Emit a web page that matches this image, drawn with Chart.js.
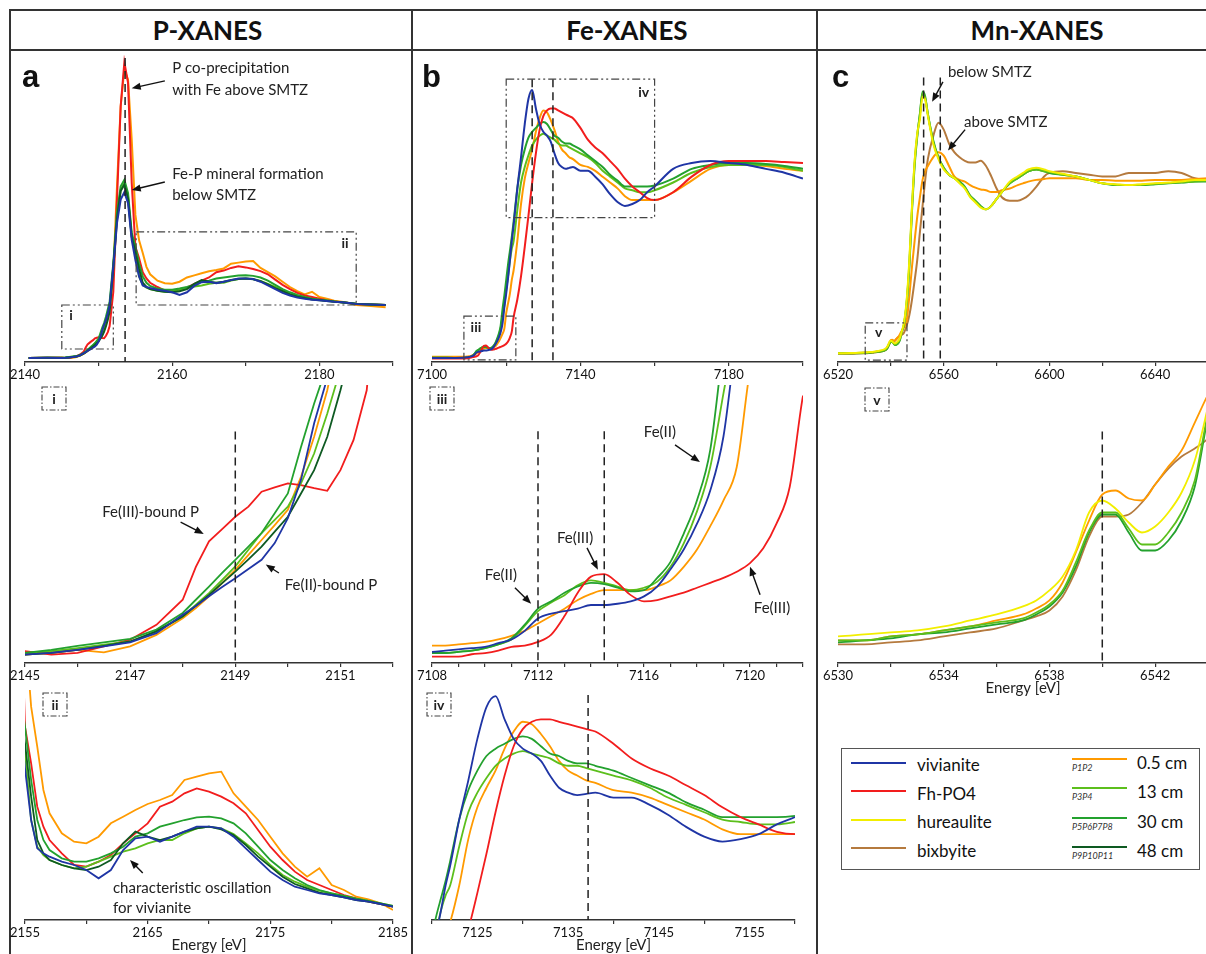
<!DOCTYPE html>
<html>
<head>
<meta charset="utf-8">
<script src="https://cdn.jsdelivr.net/npm/chart.js@4.4.0/dist/chart.umd.min.js"></script>
<style>
  html, body { margin: 0; padding: 0; background: #fff; }
  body { width: 1206px; height: 954px; position: relative; overflow: hidden; font-family: Lato, 'Open Sans', sans-serif; color: #111; }
  canvas { position: absolute; }
  .rule { position: absolute; background: #333; }
  .head { position: absolute; top: 10px; height: 40px; line-height: 40px; text-align: center; font-weight: bold; font-size: 26px; }
  .lg { position: absolute; white-space: nowrap; }
</style>
</head>
<body>
<div class="rule" style="left:9px;top:9px;width:1200px;height:2px"></div>
<div class="rule" style="left:9px;top:49px;width:1200px;height:2px"></div>
<div class="rule" style="left:9px;top:9px;width:2px;height:950px"></div>
<div class="rule" style="left:411px;top:9px;width:2px;height:950px"></div>
<div class="rule" style="left:816px;top:9px;width:2px;height:950px"></div>
<div class="head" style="left:10px;width:395px">P-XANES</div>
<div class="head" style="left:412px;width:430px">Fe-XANES</div>
<div class="head" style="left:817px;width:440px">Mn-XANES</div>
<div class="lg" style="left:841px;top:748px;width:357px;height:120px;border:1.5px solid #555"></div>
<script>
// ---- P K-edge (normalized absorbance) ----
const pEnergy = [2140.5, 2143, 2145, 2145.5, 2146, 2146.5, 2147, 2147.5, 2148, 2148.25, 2148.5, 2148.75, 2149, 2149.25, 2149.5, 2149.75, 2150, 2150.25, 2150.5, 2150.75, 2151, 2151.25, 2151.5, 2152, 2152.5, 2153, 2153.5, 2154, 2154.5, 2155, 2155.5, 2156, 2156.5, 2157, 2158, 2159, 2160, 2161, 2162, 2163, 2164, 2165, 2166, 2167, 2168, 2169, 2170, 2171, 2172, 2173, 2174, 2175, 2176, 2177, 2178, 2179, 2180, 2181, 2182, 2183, 2184, 2185, 2187, 2189];
const pVivianite = [0, 0.003, 0.0, 0.004, 0.011, 0.019, 0.028, 0.049, 0.091, 0.111, 0.133, 0.154, 0.174, 0.195, 0.216, 0.254, 0.311, 0.398, 0.527, 0.63, 0.72, 0.85, 1.0, 1.73, 2.55, 2.99, 3.13, 2.92, 2.23, 1.85, 1.54, 1.37, 1.34, 1.32, 1.29, 1.27, 1.24, 1.19, 1.24, 1.36, 1.43, 1.44, 1.41, 1.44, 1.47, 1.50, 1.50, 1.49, 1.44, 1.37, 1.30, 1.23, 1.18, 1.14, 1.12, 1.10, 1.09, 1.076, 1.06, 1.05, 1.036, 1.02, 1.01, 1.0];
const pFhPO4 = [0, 0.005, 0.008, 0.0, 0.004, 0.019, 0.034, 0.068, 0.125, 0.20, 0.258, 0.286, 0.314, 0.337, 0.371, 0.381, 0.390, 0.386, 0.379, 0.373, 0.420, 0.489, 0.602, 1.25, 2.99, 4.75, 5.58, 5.19, 3.3, 2.1, 1.88, 1.62, 1.50, 1.42, 1.34, 1.27, 1.26, 1.29, 1.33, 1.40, 1.46, 1.52, 1.62, 1.65, 1.70, 1.73, 1.71, 1.68, 1.64, 1.58, 1.48, 1.38, 1.30, 1.23, 1.18, 1.15, 1.12, 1.09, 1.07, 1.05, 1.036, 1.02, 1.01, 1.0];
const pP1P2 = [0, 0.003, 0.0, 0.004, 0.011, 0.005, 0.019, 0.045, 0.083, 0.106, 0.133, 0.163, 0.193, 0.227, 0.261, 0.295, 0.330, 0.405, 0.496, 0.602, 0.75, 0.85, 0.95, 1.6, 3.24, 4.75, 5.45, 5.25, 4.12, 2.7, 2.22, 1.98, 1.72, 1.58, 1.46, 1.41, 1.40, 1.44, 1.52, 1.56, 1.60, 1.636, 1.66, 1.69, 1.78, 1.80, 1.82, 1.83, 1.70, 1.62, 1.54, 1.44, 1.34, 1.26, 1.20, 1.25, 1.15, 1.12, 1.08, 1.064, 1.04, 1.0, 0.98, 0.96];
const pP3P4 = [0, 0.003, 0.004, 0.008, 0.015, 0.023, 0.03, 0.053, 0.087, 0.114, 0.140, 0.170, 0.201, 0.239, 0.277, 0.307, 0.337, 0.390, 0.458, 0.549, 0.65, 0.78, 0.95, 1.75, 2.68, 3.18, 3.30, 3.05, 2.30, 1.95, 1.54, 1.38, 1.33, 1.30, 1.27, 1.25, 1.26, 1.29, 1.32, 1.35, 1.37, 1.40, 1.42, 1.42, 1.46, 1.49, 1.50, 1.49, 1.456, 1.40, 1.34, 1.27, 1.21, 1.17, 1.14, 1.116, 1.10, 1.084, 1.068, 1.054, 1.04, 1.024, 1.01, 1.0];
const pP5P8 = [0, 0.003, 0.004, 0.011, 0.02, 0.028, 0.036, 0.057, 0.095, 0.125, 0.155, 0.186, 0.216, 0.246, 0.277, 0.322, 0.367, 0.473, 0.572, 0.66, 0.78, 0.92, 1.06, 1.79, 2.74, 3.24, 3.36, 3.11, 2.36, 2.1, 1.78, 1.54, 1.42, 1.36, 1.31, 1.29, 1.29, 1.31, 1.34, 1.38, 1.44, 1.46, 1.50, 1.52, 1.54, 1.556, 1.56, 1.55, 1.52, 1.46, 1.38, 1.30, 1.24, 1.19, 1.15, 1.12, 1.10, 1.084, 1.068, 1.054, 1.04, 1.024, 1.01, 1.0];
const pP9P11 = [0, 0.003, 0.0, 0.004, 0.011, 0.02, 0.03, 0.053, 0.087, 0.111, 0.136, 0.163, 0.189, 0.217, 0.246, 0.280, 0.314, 0.367, 0.420, 0.496, 0.602, 0.72, 0.88, 1.70, 2.62, 3.15, 3.27, 3.0, 2.28, 2.0, 1.68, 1.42, 1.34, 1.30, 1.27, 1.25, 1.24, 1.26, 1.30, 1.40, 1.47, 1.44, 1.42, 1.44, 1.47, 1.49, 1.50, 1.484, 1.45, 1.39, 1.32, 1.26, 1.20, 1.156, 1.13, 1.104, 1.09, 1.076, 1.06, 1.05, 1.036, 1.02, 1.01, 1.0];

// ---- Fe K-edge ----
const feEnergy = [7100, 7104, 7108, 7108.5, 7109, 7109.5, 7110, 7110.5, 7111, 7111.5, 7112, 7112.5, 7113, 7113.5, 7114, 7114.5, 7115, 7115.5, 7116, 7116.5, 7117, 7117.5, 7118, 7118.5, 7119, 7119.5, 7120, 7120.5, 7121, 7121.5, 7122, 7123, 7124, 7125, 7126, 7127, 7128, 7129, 7130, 7131, 7132, 7133, 7134, 7135, 7136, 7137, 7138, 7140, 7142, 7144, 7146, 7148, 7150, 7152, 7154, 7156, 7158, 7160, 7165, 7170, 7175, 7180, 7185, 7190, 7195, 7200];
const feVivianite = [0, 0, 0.001, 0.002, 0.003, 0.004, 0.005, 0.008, 0.011, 0.018, 0.028, 0.032, 0.034, 0.036, 0.039, 0.039, 0.040, 0.042, 0.046, 0.054, 0.068, 0.084, 0.105, 0.132, 0.176, 0.26, 0.33, 0.41, 0.50, 0.60, 0.68, 0.87, 1.03, 1.20, 1.33, 1.375, 1.28, 1.20, 1.16, 1.14, 1.11, 1.05, 1.0, 0.98, 0.97, 0.975, 0.98, 0.96, 0.96, 0.93, 0.89, 0.84, 0.80, 0.78, 0.79, 0.81, 0.85, 0.88, 0.97, 1.0, 1.01, 1.0, 0.99, 0.97, 0.95, 0.92];
const feFhPO4 = [-0.003, -0.003, -0.003, -0.003, -0.003, -0.001, 0.0, 0.002, 0.005, 0.006, 0.009, 0.015, 0.030, 0.049, 0.062, 0.064, 0.057, 0.047, 0.042, 0.043, 0.046, 0.049, 0.053, 0.057, 0.061, 0.066, 0.073, 0.085, 0.105, 0.135, 0.209, 0.30, 0.42, 0.57, 0.73, 0.90, 1.05, 1.17, 1.24, 1.27, 1.28, 1.28, 1.27, 1.26, 1.25, 1.24, 1.23, 1.18, 1.12, 1.08, 1.05, 1.01, 0.97, 0.92, 0.88, 0.85, 0.82, 0.81, 0.85, 0.93, 0.99, 1.01, 1.01, 1.01, 1.005, 1.0];
const feP1P2 = [0.006, 0.006, 0.006, 0.006, 0.007, 0.008, 0.009, 0.011, 0.014, 0.018, 0.024, 0.030, 0.036, 0.043, 0.048, 0.051, 0.051, 0.051, 0.051, 0.054, 0.059, 0.070, 0.084, 0.103, 0.124, 0.151, 0.23, 0.28, 0.33, 0.40, 0.45, 0.60, 0.79, 0.92, 1.0, 1.07, 1.16, 1.23, 1.27, 1.26, 1.22, 1.17, 1.11, 1.07, 1.05, 1.03, 1.02, 0.99, 0.98, 0.96, 0.93, 0.90, 0.87, 0.83, 0.81, 0.81, 0.81, 0.81, 0.85, 0.91, 0.97, 0.99, 0.99, 0.985, 0.97, 0.96];
const feP3P4 = [0.001, 0.001, 0.0, 0.0, 0.001, 0.002, 0.004, 0.007, 0.011, 0.022, 0.034, 0.041, 0.047, 0.055, 0.059, 0.057, 0.054, 0.051, 0.053, 0.058, 0.070, 0.089, 0.115, 0.151, 0.211, 0.27, 0.35, 0.42, 0.50, 0.56, 0.60, 0.76, 0.90, 0.98, 1.04, 1.09, 1.12, 1.14, 1.15, 1.14, 1.13, 1.12, 1.10, 1.09, 1.09, 1.08, 1.07, 1.05, 1.03, 1.0, 0.96, 0.93, 0.90, 0.87, 0.86, 0.85, 0.85, 0.86, 0.90, 0.95, 0.98, 0.99, 0.99, 0.99, 0.98, 0.96];
const feP5P8 = [0.001, 0.001, 0.0, 0.0, 0.001, 0.002, 0.004, 0.007, 0.012, 0.023, 0.036, 0.042, 0.049, 0.054, 0.057, 0.056, 0.053, 0.050, 0.051, 0.061, 0.074, 0.097, 0.124, 0.165, 0.25, 0.32, 0.40, 0.48, 0.55, 0.62, 0.70, 0.87, 0.99, 1.07, 1.13, 1.16, 1.18, 1.20, 1.21, 1.20, 1.17, 1.14, 1.13, 1.11, 1.10, 1.10, 1.09, 1.07, 1.04, 1.01, 0.98, 0.94, 0.91, 0.88, 0.88, 0.88, 0.88, 0.885, 0.92, 0.97, 0.99, 1.0, 1.0, 0.995, 0.985, 0.97];

// ---- Mn K-edge ----
const mnEnergy = [6520, 6525, 6530, 6531, 6532, 6533, 6534, 6535, 6536, 6537, 6537.5, 6538, 6538.5, 6539, 6539.5, 6540, 6540.5, 6541, 6541.5, 6542, 6542.5, 6543, 6543.5, 6544, 6545, 6546, 6547, 6548, 6549, 6550, 6551, 6552, 6553, 6554, 6556, 6558, 6560, 6562, 6564, 6566, 6568, 6570, 6572, 6574, 6576, 6578, 6580, 6582, 6585, 6588, 6590, 6592, 6595, 6598, 6600, 6605, 6610, 6615, 6620, 6625, 6630, 6635, 6640, 6645, 6650, 6655, 6660];
const mnHureaulite = [0.0, 0.002, 0.005, 0.006, 0.007, 0.008, 0.010, 0.013, 0.016, 0.020, 0.023, 0.028, 0.035, 0.048, 0.067, 0.073, 0.069, 0.062, 0.057, 0.060, 0.067, 0.077, 0.093, 0.120, 0.18, 0.31, 0.54, 0.85, 1.11, 1.27, 1.35, 1.48, 1.46, 1.37, 1.21, 1.12, 1.06, 1.03, 1.01, 0.98, 0.95, 0.90, 0.87, 0.84, 0.83, 0.85, 0.89, 0.93, 0.99, 1.02, 1.04, 1.06, 1.07, 1.06, 1.05, 1.035, 1.02, 1.0, 0.98, 0.975, 0.97, 0.975, 0.98, 0.985, 0.99, 1.0, 1.0];
const mnBixbyite = [-0.003, -0.002, 0.001, 0.001, 0.002, 0.003, 0.005, 0.007, 0.009, 0.013, 0.015, 0.018, 0.025, 0.038, 0.055, 0.065, 0.065, 0.066, 0.072, 0.081, 0.089, 0.095, 0.099, 0.104, 0.12, 0.16, 0.22, 0.31, 0.42, 0.54, 0.70, 0.85, 1.0, 1.12, 1.25, 1.33, 1.29, 1.21, 1.16, 1.13, 1.11, 1.10, 1.10, 1.11, 1.08, 1.02, 0.95, 0.90, 0.88, 0.88, 0.89, 0.91, 0.96, 1.02, 1.04, 1.05, 1.04, 1.03, 1.02, 1.02, 1.04, 1.04, 1.04, 1.05, 1.04, 1.01, 1.0];
const mnP1P2 = [0.0, 0.001, 0.003, 0.003, 0.005, 0.006, 0.008, 0.010, 0.013, 0.016, 0.019, 0.023, 0.032, 0.047, 0.063, 0.076, 0.078, 0.074, 0.073, 0.081, 0.090, 0.098, 0.112, 0.126, 0.15, 0.19, 0.33, 0.50, 0.65, 0.79, 0.90, 1.0, 1.05, 1.08, 1.13, 1.16, 1.14, 1.08, 1.02, 1.0, 0.99, 0.97, 0.955, 0.945, 0.94, 0.93, 0.93, 0.94, 0.95, 0.97, 0.98, 0.99, 1.0, 1.005, 1.01, 1.01, 1.01, 1.0, 1.0, 0.995, 0.995, 0.995, 1.0, 1.0, 1.0, 1.005, 1.01];
const mnP3P4 = [0.0, 0.001, 0.003, 0.003, 0.005, 0.006, 0.008, 0.010, 0.012, 0.014, 0.017, 0.021, 0.028, 0.042, 0.058, 0.067, 0.067, 0.059, 0.051, 0.051, 0.057, 0.067, 0.083, 0.117, 0.17, 0.30, 0.52, 0.84, 1.10, 1.26, 1.38, 1.50, 1.47, 1.38, 1.22, 1.13, 1.07, 1.03, 1.01, 0.985, 0.955, 0.905, 0.875, 0.845, 0.83, 0.85, 0.89, 0.93, 0.98, 1.01, 1.03, 1.05, 1.06, 1.05, 1.045, 1.03, 1.02, 1.0, 0.98, 0.972, 0.97, 0.972, 0.977, 0.982, 0.987, 0.99, 0.995];
const mnP5P8 = [0.0, 0.0, 0.002, 0.003, 0.004, 0.006, 0.007, 0.009, 0.011, 0.013, 0.016, 0.020, 0.027, 0.040, 0.057, 0.066, 0.066, 0.057, 0.048, 0.048, 0.053, 0.063, 0.080, 0.115, 0.17, 0.29, 0.50, 0.82, 1.08, 1.25, 1.38, 1.51, 1.48, 1.38, 1.23, 1.13, 1.07, 1.03, 1.01, 0.99, 0.96, 0.91, 0.88, 0.85, 0.83, 0.85, 0.89, 0.93, 0.98, 1.01, 1.03, 1.05, 1.06, 1.05, 1.04, 1.03, 1.02, 1.0, 0.98, 0.97, 0.97, 0.97, 0.975, 0.98, 0.985, 0.99, 0.99];

// legend entries
const refNames = ['vivianite', 'Fh-PO4', 'hureaulite', 'bixbyite'];
const depthNames = ['0.5 cm', '13 cm', '30 cm', '48 cm'];
const depthCodes = ['P1P2', 'P3P4', 'P5P6P7P8', 'P9P10P11'];

const C = {
  viv: '#1f35a5', fh: '#f21d1d', hur: '#f2ee00', bix: '#b57a3e',
  d05: '#ff9a00', d13: '#5cbf1c', d30: '#23a12e', d48: '#0e5a22'
};
const refColors = [C.viv, C.fh, C.hur, C.bix];
const depthColors = [C.d05, C.d13, C.d30, C.d48];
const FONT = "Lato, 'Open Sans', sans-serif";

function line(energy, values, color, smooth, width) {
  return {
    data: energy.map((x, i) => ({ x, y: values[i] })),
    borderColor: color, borderWidth: width || 2, pointRadius: 0, fill: false,
    tension: 0, cubicInterpolationMode: smooth ? 'monotone' : 'default'
  };
}

const pSets = w => [
  line(pEnergy, pVivianite, C.viv, false, w),
  line(pEnergy, pP9P11, C.d48, false, w),
  line(pEnergy, pP5P8, C.d30, false, w),
  line(pEnergy, pP3P4, C.d13, false, w),
  line(pEnergy, pFhPO4, C.fh, false, w),
  line(pEnergy, pP1P2, C.d05, false, w)
];
const feSets = w => [
  line(feEnergy, feVivianite, C.viv, true, w),
  line(feEnergy, feFhPO4, C.fh, true, w),
  line(feEnergy, feP5P8, C.d30, true, w),
  line(feEnergy, feP3P4, C.d13, true, w),
  line(feEnergy, feP1P2, C.d05, true, w)
];
const mnSets = w => [
  line(mnEnergy, mnHureaulite, C.hur, true, w),
  line(mnEnergy, mnP3P4, C.d13, true, w),
  line(mnEnergy, mnP5P8, C.d30, true, w),
  line(mnEnergy, mnP1P2, C.d05, true, w),
  line(mnEnergy, mnBixbyite, C.bix, true, w)
];

function drawArrow(ctx, x0, y0, x1, y1) {
  const a = Math.atan2(y1 - y0, x1 - x0), L = 9, W = 3.6;
  ctx.beginPath();
  ctx.moveTo(x0, y0);
  ctx.lineTo(x1 - L * 0.7 * Math.cos(a), y1 - L * 0.7 * Math.sin(a));
  ctx.stroke();
  ctx.beginPath();
  ctx.moveTo(x1, y1);
  ctx.lineTo(x1 - L * Math.cos(a) + W * Math.sin(a), y1 - L * Math.sin(a) - W * Math.cos(a));
  ctx.lineTo(x1 - L * Math.cos(a) - W * Math.sin(a), y1 - L * Math.sin(a) + W * Math.cos(a));
  ctx.closePath();
  ctx.fill();
}

function overlay(p) {
  return {
    id: 'overlay',
    afterDatasetsDraw(chart) {
      const { ctx, chartArea: ca } = chart;
      const sx = chart.scales.x, sy = chart.scales.y;
      const px = v => sx.getPixelForValue(v), py = v => sy.getPixelForValue(v);
      ctx.save();
      // dashed edge markers
      ctx.strokeStyle = '#222'; ctx.lineWidth = 1.5; ctx.setLineDash([8, 5]);
      (p.marks || []).forEach(m => {
        ctx.beginPath(); ctx.moveTo(px(m[0]), py(m[1])); ctx.lineTo(px(m[0]), ca.bottom); ctx.stroke();
      });
      // zoom windows
      ctx.strokeStyle = '#444'; ctx.lineWidth = 1.2; ctx.setLineDash([8, 3, 2, 3, 2, 3]);
      (p.boxes || []).forEach(b => {
        ctx.strokeRect(px(b[0]), py(b[3]), px(b[1]) - px(b[0]), py(b[2]) - py(b[3]));
      });
      ctx.setLineDash([]);
      ctx.fillStyle = '#222';
      ctx.font = 'bold 14px ' + FONT; ctx.textBaseline = 'middle'; ctx.textAlign = 'left';
      (p.boxLabels || []).forEach(l => ctx.fillText(l[0], px(l[1]), py(l[2])));
      // corner tag of zoomed panels
      if (p.tag) {
        const [t, dx, dy] = p.tag;
        ctx.setLineDash([6, 2, 1.5, 2]); ctx.lineWidth = 1.1; ctx.strokeStyle = '#444';
        ctx.strokeRect(ca.left + dx, ca.top + dy, 24, 23);
        ctx.setLineDash([]);
        ctx.textAlign = 'center';
        ctx.fillText(t, ca.left + dx + 12, ca.top + dy + 12);
      }
      // panel letter
      if (p.letter) {
        ctx.font = "bold 31px 'Liberation Sans', Arial, sans-serif";
        ctx.textAlign = 'left'; ctx.textBaseline = 'alphabetic';
        ctx.fillStyle = '#111';
        ctx.fillText(p.letter[0], ca.left + p.letter[1], ca.top + 32);
      }
      // notes
      ctx.font = '15px ' + FONT; ctx.textBaseline = 'middle'; ctx.fillStyle = '#222';
      (p.texts || []).forEach(t => { ctx.textAlign = t[3]; ctx.fillText(t[0], px(t[1]), py(t[2])); });
      ctx.strokeStyle = '#111'; ctx.fillStyle = '#111'; ctx.lineWidth = 1.4;
      (p.arrows || []).forEach(a => drawArrow(ctx, px(a[0]), py(a[1]), px(a[2]), py(a[3])));
      ctx.restore();
    }
  };
}

function panel(p) {
  const pad = 20;
  const [x0, x1, y0, y1] = p.area;
  const cv = document.createElement('canvas');
  cv.width = x1 - x0 + 2 * pad;
  cv.height = y1 - y0 + 5 + p.axisH;
  cv.style.left = (x0 - pad) + 'px';
  cv.style.top = (y0 - 5) + 'px';
  document.body.appendChild(cv);
  const isLabel = v => {
    const q = (v - p.labelFrom) / p.labelEvery;
    return Math.abs(q - Math.round(q)) < 1e-6;
  };
  new Chart(cv, {
    type: 'line',
    data: { datasets: p.datasets },
    options: {
      responsive: false, animation: false, devicePixelRatio: 1,
      layout: { padding: { left: pad, right: pad, top: 5, bottom: 0 } },
      plugins: { legend: { display: false }, tooltip: { enabled: false } },
      scales: {
        x: {
          type: 'linear', min: p.xMin, max: p.xMax,
          afterFit: s => { s.height = p.axisH; },
          ticks: {
            stepSize: p.step, autoSkip: false, maxRotation: 0, padding: 1, color: '#111',
            font: { family: FONT, size: 13 },
            callback: v => isLabel(v) ? String(v) : ''
          },
          grid: {
            drawOnChartArea: false, tickLength: 4, lineWidth: 1.2,
            color: c => (p.bareLabels && c.tick && isLabel(c.tick.value)) ? 'rgba(0,0,0,0)' : '#333'
          },
          border: { color: '#333', width: 1.5 },
          title: p.title
            ? { display: true, text: 'Energy [eV]', color: '#222', padding: { top: 0, bottom: 0 }, font: { family: FONT, size: 15 } }
            : { display: false }
        },
        y: { display: false, min: p.yMin, max: p.yMax }
      }
    },
    plugins: [overlay(p)]
  });
}

// row 1: overview spectra
panel({
  area: [25, 393, 55, 362], axisH: 21, xMin: 2140, xMax: 2190, step: 10, labelFrom: 2140, labelEvery: 20,
  yMin: -0.075, yMax: 5.717, datasets: pSets(2), letter: ['a', -3],
  marks: [[2153.6, 5.66]],
  boxes: [[2145, 2152, 0.17, 1.0], [2155.1, 2185, 1.0, 2.38]],
  boxLabels: [['i', 2146.0, 0.81], ['ii', 2183.0, 2.17]],
  texts: [['P co-precipitation', 2160.0, 5.47, 'left'], ['with Fe above SMTZ', 2160.0, 5.06, 'left'],
          ['Fe-P mineral formation', 2160.0, 3.47, 'left'], ['below SMTZ', 2160.0, 3.08, 'left']],
  arrows: [[2159.0, 5.23, 2154.5, 5.09], [2159.0, 3.32, 2154.5, 3.17]]
});
panel({
  area: [432, 803, 55, 362], axisH: 21, xMin: 7100, xMax: 7200, step: 20, labelFrom: 7100, labelEvery: 40,
  yMin: -0.0205, yMax: 1.554, datasets: feSets(2), letter: ['b', -10],
  marks: [[7127, 1.43], [7132.6, 1.43]],
  boxes: [[7108.6, 7122.6, -0.01, 0.215], [7120, 7160, 0.72, 1.43]],
  boxLabels: [['iii', 7110.4, 0.155], ['iv', 7155.6, 1.36]]
});
panel({
  area: [838, 1208, 55, 362], axisH: 21, xMin: 6520, xMax: 6660, step: 20, labelFrom: 6520, labelEvery: 40,
  yMin: -0.05, yMax: 1.72, datasets: mnSets(2), letter: ['c', -6],
  marks: [[6552.4, 1.59], [6558.7, 1.59]],
  boxes: [[6530.3, 6546.1, -0.039, 0.175]],
  boxLabels: [['v', 6534.0, 0.12]],
  texts: [['below SMTZ', 6561.6, 1.62, 'left'], ['above SMTZ', 6567.7, 1.335, 'left']],
  arrows: [[6559.7, 1.565, 6555.6, 1.45], [6568.1, 1.29, 6561.6, 1.17]]
});

// row 2: pre-edge zooms
panel({
  area: [25, 393, 385, 663], axisH: 21, xMin: 2145, xMax: 2152, step: 1, labelFrom: 2145, labelEvery: 2,
  yMin: -0.019, yMax: 0.614, datasets: pSets(1.8), tag: ['i', 17, 2],
  marks: [[2149, 0.508]],
  texts: [['Fe(III)-bound P', 2147.39, 0.325, 'center'], ['Fe(II)-bound P', 2149.94, 0.159, 'left']],
  arrows: [[2147.96, 0.302, 2148.40, 0.275], [2149.83, 0.186, 2149.58, 0.205]]
});
panel({
  area: [432, 803, 385, 663], axisH: 21, xMin: 7108, xMax: 7122, step: 1, labelFrom: 7108, labelEvery: 4,
  yMin: -0.0081, yMax: 0.2176, datasets: feSets(1.8), tag: ['iii', -2, 2],
  marks: [[7112, 0.18], [7114.5, 0.18]],
  texts: [['Fe(II)', 7116.6, 0.179, 'center'], ['Fe(III)', 7113.4, 0.0935, 'center'],
          ['Fe(II)', 7110.6, 0.0635, 'center'], ['Fe(III)', 7120.83, 0.0368, 'center']],
  arrows: [[7117.17, 0.169, 7118.11, 0.155], [7113.85, 0.0854, 7114.26, 0.0676],
           [7111.13, 0.053, 7111.74, 0.040], [7120.38, 0.0473, 7120.0, 0.070]]
});
panel({
  area: [838, 1208, 385, 663], axisH: 34, title: true, xMin: 6530, xMax: 6544, step: 2, labelFrom: 6530, labelEvery: 4,
  yMin: -0.0083, yMax: 0.1308, datasets: mnSets(1.8), tag: ['v', 27, 3],
  marks: [[6540, 0.1075]]
});

// row 3: post-edge zooms
panel({
  area: [25, 393, 690, 920], axisH: 34, title: true, xMin: 2155, xMax: 2185, step: 5, labelFrom: 2155, labelEvery: 10,
  yMin: 0.94, yMax: 2.32, datasets: pSets(1.8), tag: ['ii', 18, 3],
  texts: [['characteristic oscillation', 2162.17, 1.132, 'left'], ['for vivianite', 2162.17, 1.012, 'left']],
  arrows: [[2164.6, 1.222, 2163.56, 1.30]]
});
panel({
  area: [432, 795, 690, 920], axisH: 34, title: true, xMin: 7120, xMax: 7160, step: 5, labelFrom: 7125, labelEvery: 10,
  bareLabels: true,
  yMin: 0.459, yMax: 1.40, datasets: feSets(1.8), tag: ['iv', -5, 3],
  marks: [[7137.2, 1.38]]
});

// legend
function addDiv(style, text) {
  const d = document.createElement('div');
  d.className = 'lg';
  d.setAttribute('style', style);
  if (text) d.textContent = text;
  document.body.appendChild(d);
}
refNames.forEach((n, i) => {
  addDiv(`left:851px;top:${762 + i * 28.3}px;width:55px;height:2px;background:${refColors[i]}`);
  addDiv(`left:917px;top:${755 + i * 28.7}px;font-size:17px;line-height:20px`, n);
});
depthNames.forEach((n, i) => {
  addDiv(`left:1072px;top:${758 + i * 29.3}px;width:55px;height:2px;background:${depthColors[i]}`);
  addDiv(`left:1072px;top:${762 + i * 29.3}px;font-size:9px;line-height:11px;font-style:italic;color:#333`, depthCodes[i]);
  addDiv(`left:1137px;top:${753 + i * 29.3}px;font-size:17px;line-height:20px`, n);
});
</script>
</body>
</html>
